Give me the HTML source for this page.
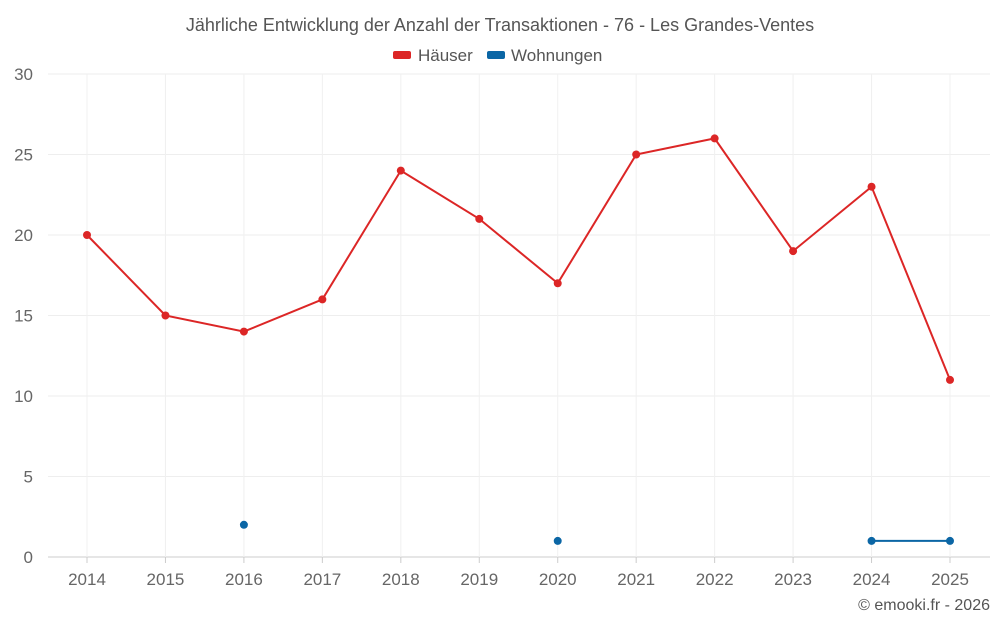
<!DOCTYPE html>
<html><head><meta charset="utf-8"><style>
html,body{margin:0;padding:0;background:#fff;}
svg{display:block;font-family:"Liberation Sans",sans-serif;}
</style></head><body>
<svg id="chart" width="1000" height="625">
<text x="500" y="31" text-anchor="middle" font-size="18" fill="#555">Jährliche Entwicklung der Anzahl der Transaktionen - 76 - Les Grandes-Ventes</text>
<g>
<g><rect x="393" y="51" width="18" height="8" rx="2" fill="#dc2626"/><text x="418" y="61" font-size="17" fill="#555">Häuser</text></g>
<g><rect x="487" y="51" width="18" height="8" rx="2" fill="#0b66a5"/><text x="511" y="61" font-size="17" fill="#555">Wohnungen</text></g>
</g>
<g id="grid"></g><g id="axes"></g><g id="series"></g>
<text x="990" y="610" text-anchor="end" font-size="16" fill="#555">© emooki.fr - 2026</text>
</svg>
<script>
const years=[2014,2015,2016,2017,2018,2019,2020,2021,2022,2023,2024,2025];
const haeuser=[20,15,14,16,24,21,17,25,26,19,23,11];
const wohnungen=[null,null,2,null,null,null,1,null,null,null,1,1];
const yTicks=[0,5,10,15,20,25,30];
const NS="http://www.w3.org/2000/svg";
const L=48,R=990,T=74,B=557;
function x(i){return 87+i*(950-87)/(years.length-1);}
function y(v){return B-(v/30)*(B-T);}
function mk(tag,attrs,parent){const e=document.createElementNS(NS,tag);for(const k in attrs)e.setAttribute(k,attrs[k]);parent.appendChild(e);return e;}
const grid=document.getElementById('grid'),axes=document.getElementById('axes'),ser=document.getElementById('series');
yTicks.forEach(t=>{
 const l=mk('line',{x1:L,x2:R,y1:y(t),y2:y(t),stroke:t===0?'#ccc':'#eee','stroke-width':1},grid);
 
 
 const tx=mk('text',{x:33,y:y(t)+6,'text-anchor':'end','font-size':17,fill:'#666'},axes);
 tx.textContent=t;
 
 
});
years.forEach((yr,i)=>{
 const l=mk('line',{x1:x(i),x2:x(i),y1:T,y2:B,stroke:'#f0f0f0','stroke-width':1},grid);
 
 
 const tk=mk('line',{x1:x(i),x2:x(i),y1:B,y2:B+6,stroke:'#ccc'},axes);
 
 
 const tx=mk('text',{x:x(i),y:585,'text-anchor':'middle','font-size':17,fill:'#666'},axes);
 tx.textContent=yr;
 
 
});
function draw(data,color,name){
 let seg=[];const segs=[];
 data.forEach((v,i)=>{if(v===null){if(seg.length)segs.push(seg);seg=[];}else seg.push([x(i),y(v)]);});
 if(seg.length)segs.push(seg);
 segs.forEach(s=>{if(s.length>1){const p=mk('polyline',{points:s.map(q=>q.join(',')).join(' '),fill:'none',stroke:color,'stroke-width':2},ser);
  
  }});
 data.forEach((v,i)=>{if(v===null)return;const c=mk('circle',{cx:x(i),cy:y(v),r:4,fill:color},ser);
  
  });
}
draw(haeuser,'#dc2626','haeuser');
draw(wohnungen,'#0b66a5','wohnungen');
</script>
</body></html>
